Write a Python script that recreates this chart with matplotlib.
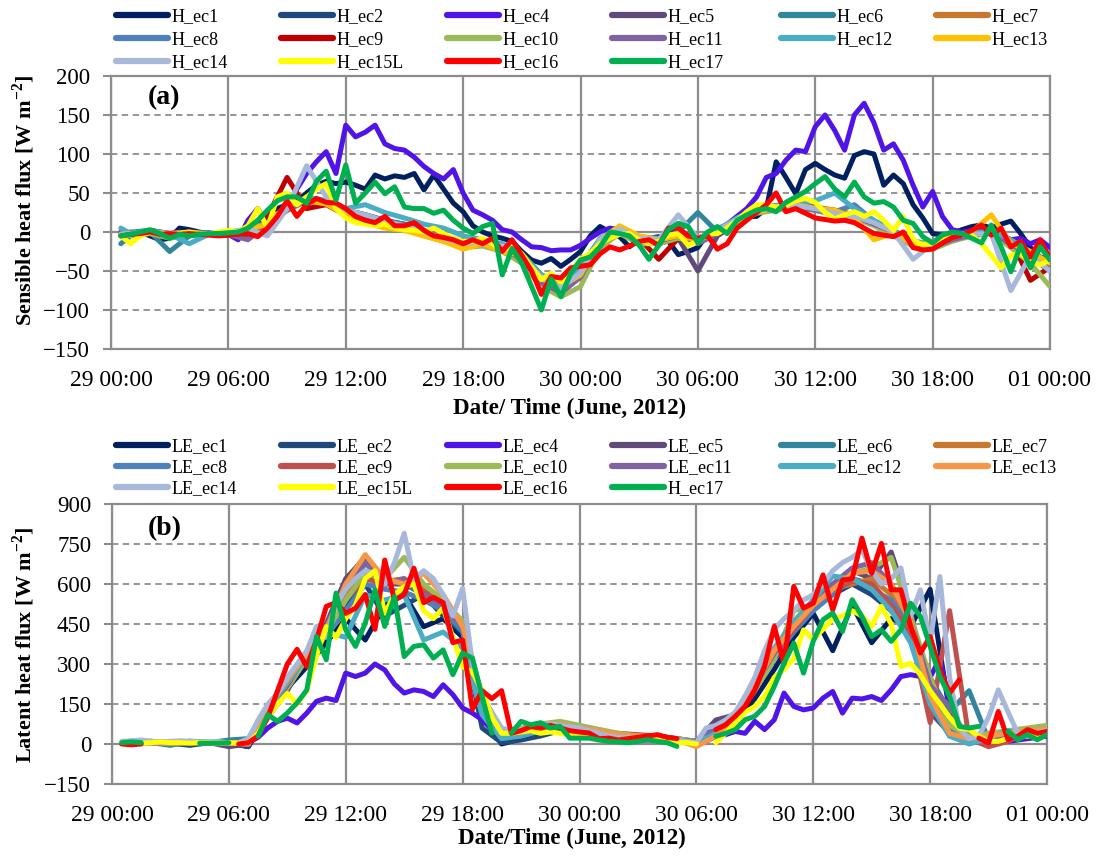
import numpy as np
import matplotlib
matplotlib.use('Agg')
import matplotlib.pyplot as plt
from matplotlib.lines import Line2D

nan = np.nan

# time axes, hours after 29 June 2012 00:00
t_half = np.arange(1, 97) * 0.5          # 0.5 ... 48.0
t_hour = np.r_[0.5, np.arange(1, 49)]     # 0.5, 1 ... 48

tick_labels = ['29 00:00', '29 06:00', '29 12:00', '29 18:00', '30 00:00',
               '30 06:00', '30 12:00', '30 18:00', '01 00:00']

# ---------------- (a) sensible heat flux ----------------
# half-hourly series
H_ec1 = [-2, -3, 0, -5, -10, -8, 5, 3, 0, -2, -3, -2,
         0, 5, 10, 25, 30, 35, 40, 50, 60, 65, 62, 64,
         60, 55, 73, 68, 72, 70, 75, 54, 73, 55, 37, 26,
         8, 0, -5, -8, -12, -25, -36, -40, -34, -44, -35, -25,
         -5, 7, 0, -6, -19, -10, -8, -6, -12, -29, -25, -20,
         -2, 2, 5, 15, 20, 20, 30, 90, 70, 49, 80, 88,
         80, 73, 69, 98, 103, 100, 60, 73, 62, 35, 18, -2,
         -4, -2, 3, 7, 9, 5, 10, 14, -2, -20, -32, -36]
H_ec4 = [-3, -2, 0, 2, 0, -2, 0, -3, -2, -1, -2, -3,
         -10, 15, 30, 8, 18, 30, 55, 75, 90, 103, 75, 137,
         122, 128, 137, 113, 107, 105, 96, 84, 75, 68, 80, 50,
         28, 22, 15, 3, 0, -10, -19, -20, -24, -23, -23, -17,
         -8, 0, 5, 3, -2, -8, -10, -10, 0, 5, -5, -8,
         -3, 0, 10, 20, 30, 45, 70, 75, 92, 105, 103, 135,
         150, 130, 105, 150, 165, 140, 105, 113, 92, 60, 32, 52,
         20, 3, 0, 2, 5, 0, -5, -10, -8, -15, -10, -20]
H_ec15L = [-5, -15, -5, 0, -2, -3, -2, 0, -3, -2, 0, 2,
           0, 8, 30, 5, 45, 50, 35, 45, 55, 62, 30, 18,
           12, 10, 8, 10, 5, 3, 2, 0, 5, -2, -8, -12,
           -12, -8, -15, -25, -15, -28, -45, -61, -53, -64, -50, -35,
           -27, -15, -8, -3, -2, -10, -15, -12, -4, -2, -17, -12,
           -2, -2, 5, 15, 26, 35, 35, 32, 34, 40, 43, 38,
           25, 17, 22, 26, 20, 26, 15, 2, 20, -10, -17, -14,
           -8, -4, -2, -4, -15, -30, -46, -30, -28, -38, -42, -36]
H_ec16 = [-5, -3, -2, 0, -3, -2, -3, -2, -3, -4, -5, -4,
          -3, -2, -6, 5, 20, 40, 20, 35, 43, 38, 37, 30,
          20, 15, 12, 20, 8, 8, 12, 2, -5, -7, -10, -15,
          -10, -15, -8, -25, -10, -30, -50, -80, -57, -59, -46, -44,
          -42, -28, -19, -23, -18, -12, -10, -17, 5, 5, -5, -8,
          -5, -22, -15, 5, 15, 25, 35, 50, 26, 30, 24, 18,
          16, 14, 15, 12, 5, -2, -4, -6, 0, -20, -23, -22,
          -14, -7, -4, 2, 9, -4, 5, -19, -12, -32, -10, -34]
H_ec17 = [-5, -3, 0, 3, -2, -8, -3, -5, -3, -2, -2, -1,
          0, 5, 15, 28, 40, 45, 45, 37, 65, 78, 41, 86,
          37, 50, 64, 49, 58, 32, 30, 30, 24, 28, 15, 5,
          -2, 7, 11, -55, -21, -40, -70, -100, -60, -83, -53, -36,
          -32, -19, 0, -2, -5, -17, -35, -17, 3, 11, 7, -14,
          0, 7, -2, 15, 22, 28, 30, 26, 38, 45, 52, 62,
          71, 55, 45, 64, 45, 37, 39, 32, 15, 11, -6, -14,
          -4, 0, -2, -8, -14, 9, -19, -51, -17, -46, -19, -36]
# hourly series
H_ec2 = [-2, -3, 0, -5, -3, -2, -3, 2, 12, 32, 42, 36, 28,
         22, 15, 10, 2, -6, -12, -10, -16, -28, -55, -68, -45,
         -10, 5, -8, -10, -4, -12, 0, 16, 30, 34, 36, 32,
         26, 20, 12, 2, -14, -16, -6, -2, 2, -12, -28, -40]
H_ec5 = [0, -2, 2, -3, -2, -3, -4, -8, 8, 28, 40, 36, 22,
         15, 10, 5, -2, -10, -18, -15, -22, -40, -65, -80, -55,
         -15, 0, -12, -15, -8, -50, -5, 12, 25, 30, 32, 28,
         22, 18, 10, -2, -18, -20, -10, -5, 0, -18, -32, -50]
H_ec6 = [-15, -5, 0, -25, -5, -3, -3, 2, 10, 28, 42, 40, 28,
         22, 14, 10, 2, -6, -14, -12, -20, -32, -58, -70, -48,
         -10, 3, -8, -10, 0, 25, 0, 14, 28, 32, 36, 30,
         28, 22, 14, 2, -12, -16, -8, -2, 2, -14, -28, -42]
H_ec7 = [-3, -2, 2, -2, -2, -3, -2, 3, 8, 28, 40, 36, 24,
         18, 12, 8, 0, -8, -16, -12, -20, -32, -62, -75, -50,
         -12, 2, -15, -10, -5, -8, 2, 14, 26, 30, 34, 32,
         28, 22, 12, 0, -15, -18, -8, -4, 0, -15, -30, -48]
H_ec8 = [-2, 0, 2, -2, -3, -2, -2, 4, 12, 30, 44, 40, 28,
         22, 14, 8, 2, -8, -14, -10, -18, -30, -58, -70, -52,
         -10, 4, -10, -12, -6, -10, 4, 16, 28, 32, 34, 30,
         26, 35, 14, 2, -14, -18, -10, -4, 2, -14, -32, -45]
H_ec9 = [-4, -3, 0, -2, -2, -3, -3, 0, 20, 70, 30, 35, 22,
         18, 10, 6, 0, -8, -15, -12, -20, -32, -62, -72, -50,
         -15, 0, -8, -35, -8, -10, 2, 14, 26, 30, 32, 30,
         24, 20, 12, 0, -15, -18, -8, -2, 2, -10, -62, -45]
H_ec10 = [-3, -5, -2, -8, -4, -3, -3, 2, 8, 30, 42, 36, 22,
          15, 8, 3, -5, -12, -20, -18, -25, -40, -70, -83, -70,
          -20, -2, -15, -15, -8, -12, 0, 12, 24, 28, 30, 28,
          22, 18, 8, -5, -18, -22, -12, -5, -2, -20, -40, -70]
H_ec11 = [-2, -3, 0, -2, -3, -2, -3, -10, 10, 28, 42, 38, 24,
          18, 10, 6, 0, -10, -15, -12, -20, -35, -65, -78, -58,
          -12, 0, -10, -12, -5, -15, -2, 14, 26, 30, 32, 28,
          24, 20, 10, 0, -16, -20, -10, -4, 0, -16, -30, -48]
H_ec12 = [5, -2, 2, -3, -15, -3, -3, 4, 12, 30, 45, 40, 30,
          35, 25, 18, 10, 5, -5, -10, -15, -28, -55, -65, -45,
          -8, 5, -6, -8, -3, -12, 2, 18, 30, 34, 38, 40,
          50, 30, 15, 2, -12, -15, -6, -2, 2, -10, -25, -40]
H_ec13 = [-3, -2, 0, -2, 0, -2, 0, 3, 10, 35, 40, 36, 22,
          12, 5, 2, -5, -12, -22, -15, -25, -30, -60, -70, -55,
          -10, 8, -5, -10, -5, -10, 0, 14, 26, 30, 35, 30,
          28, 18, -10, -2, -15, -15, -5, 0, 22, -15, -25, -40]
H_ec14 = [-3, -2, 0, -2, -2, -2, 0, 4, -5, 30, 85, 45, 28,
          22, 14, 8, 0, -8, -15, -12, -18, -32, -58, -72, -52,
          -10, 4, -8, -10, 22, -8, 2, 16, 28, 32, 34, 30,
          24, 20, 12, 0, -35, -15, -5, -3, -2, -75, -30, -50]

# ---------------- (b) latent heat flux ----------------
# half-hourly series
LE_ec4 = [5, 8, 10, 8, 5, 5, 8, 10, 8, 5, 5, 3,
          0, 5, 25, 60, 85, 97, 79, 116, 160, 172, 163, 266,
          253, 266, 300, 278, 225, 191, 203, 197, 178, 222, 185, 135,
          116, 91, 54, 30, 35, 40, 45, 50, 55, 50, 45, 40,
          35, 30, 25, 20, 20, 15, 15, 15, 15, 10, 10, 5,
          10, 29, 35, 47, 40, 85, 54, 91, 191, 141, 128, 135,
          172, 197, 116, 172, 169, 178, 163, 203, 253, 260, 253, 250,
          320, 150, 60, 30, 20, 15, 10, 10, 15, 20, 25, 30]
LE_ec14 = [10, 12, 15, 10, 8, 10, 12, 10, 8, 10, 8, 5,
           5, 20, 90, 150, 190, 250, 300, 350, 441, 400, 520, 580,
           620, 650, 640, 600, 680, 790, 620, 650, 620, 560, 480, 584,
           300, 180, 120, 60, 50, 55, 60, 70, 75, 70, 65, 60,
           50, 40, 30, 25, 25, 20, 20, 20, 15, 15, 10, 5,
           60, 70, 90, 120, 180, 250, 350, 430, 470, 500, 540, 560,
           600, 650, 680, 700, 728, 650, 600, 620, 660, 480, 578, 380,
           628, 250, 60, 20, 30, 100, 203, 120, 40, 40, 45, 50]
LE_ec15L = [5, 5, 3, 5, 8, 5, 5, 3, 5, 5, 3, 5,
            3, 5, 40, 100, 150, 190, 150, 200, 330, 440, 400, 470,
            520, 620, 650, 490, 560, 590, 600, 500, 470, 510, 400, 290,
            270, 200, 100, 40, 40, 45, 50, 40, 45, 40, 35, 30,
            25, 20, 15, 15, 10, 15, 20, 15, 10, 5, 5, 0,
            nan, 5, 40, 80, 120, 140, 180, 250, 280, 320, 428, 391,
            430, 470, 480, 500, 480, 441, 516, 450, 291, 303, 260, 200,
            150, 100, 60, 54, 30, 10, 10, 20, 25, 30, 30, 35]
LE_ec16 = [0, -3, 0, nan, nan, nan, nan, nan, nan, nan, nan, nan,
           0, 5, 30, 100, 200, 300, 355, 290, 390, 516, 530, 490,
           509, 560, 430, 690, 540, 560, 659, 530, 550, 530, 380, 390,
           130, 200, 170, 200, 40, 50, 65, 60, 70, 60, 50, 45,
           41, 20, 22, 15, 20, 25, 30, 35, 25, 20, nan, nan,
           nan, 54, 72, 104, 141, 203, 291, 441, 300, 591, 510, 528,
           634, 503, 615, 620, 772, 640, 752, 578, 578, 441, 341, 403,
           278, 191, 241, nan, 22, 4, 122, 16, 29, 54, 40, 47]
LE_ec17 = [5, 8, 5, nan, nan, nan, nan, nan, 3, 3, 3, 5,
           nan, nan, 29, 110, 85, 116, 154, 203, 403, 316, 566, 428,
           366, 453, 578, 441, 553, 328, 366, 372, 322, 353, 260, 341,
           322, 179, 41, nan, 41, 85, 72, 80, 60, 66, 22, 22,
           22, 15, 10, 8, 5, 10, 16, 10, 5, -9, nan, nan,
           nan, 29, 40, 54, 91, 104, 141, 216, 303, 378, 266, 385,
           466, 491, 422, 541, 478, 403, 428, 385, 428, 528, 478, 366,
           253, 179, 66, 60, 66, nan, nan, 47, 16, 35, 16, 35]
# hourly series
LE_ec1 = [5, 8, 10, 5, 8, 5, 3, -10, 110, 210, 290, 380, 470,
          390, 520, 560, 440, 470, 400, 130, 0, 20, 40, 50, 45,
          35, 25, 20, 30, 20, 5, 30, 90, 170, 280, 400, 490,
          350, 520, 380, 470, 440, 580, 120, 10, 10, 20, 30, 30]
LE_ec2 = [5, 5, 8, 3, -5, 5, 5, -10, 120, 220, 320, 410, 520,
          600, 480, 520, 560, 480, 420, 60, 5, 15, 30, 50, 45,
          30, 20, 15, 20, 15, 10, 40, 100, 200, 320, 420, 520,
          560, 600, 560, 500, 420, 160, 30, 5, 10, 20, 30, 40]
LE_ec5 = [5, 10, 8, 5, 5, 5, -10, 0, 100, 200, 330, 450, 620,
          700, 600, 600, 580, 520, 430, 120, 40, 40, 60, 70, 60,
          40, 30, 25, 20, 20, 10, 90, 110, 200, 350, 430, 520,
          590, 650, 620, 720, 500, 120, 40, 10, 15, 25, 35, 45]
LE_ec6 = [5, 8, 5, -5, 10, 5, 15, 20, 140, 220, 330, 420, 540,
          680, 620, 600, 560, 500, 420, 160, 30, 30, 50, 70, 55,
          40, 25, 20, 20, 15, 0, 40, 110, 230, 350, 450, 540,
          600, 620, 600, 520, 400, 250, 120, 200, 15, 25, 35, 45]
LE_ec7 = [5, 5, 5, 3, 8, 5, 3, 0, 120, 230, 330, 430, 560,
          640, 610, 620, 580, 520, 450, 170, 40, 40, 60, 75, 60,
          50, 35, 30, 25, 20, 5, 30, 90, 210, 340, 430, 510,
          580, 600, 620, 560, 420, 200, 60, 20, 30, 40, 40, 50]
LE_ec8 = [5, 5, 5, 3, 8, 5, 3, 0, 120, 220, 330, 410, 500,
          600, 580, 570, 540, 500, 430, 140, 40, 40, 60, 70, 60,
          40, 30, 25, 20, 15, 5, 35, 100, 220, 330, 420, 500,
          560, 620, 580, 540, 430, 200, 50, 15, 20, 30, 40, 45]
LE_ec9 = [3, 5, 5, 3, 8, 5, 3, 0, 125, 225, 320, 430, 540,
          620, 600, 610, 570, 530, 440, 150, 40, 50, 65, 80, 60,
          45, 40, 35, 30, 20, 5, 35, 100, 210, 330, 430, 520,
          580, 610, 600, 520, 420, 80, 500, 20, -10, 10, 50, 40]
LE_ec10 = [5, 8, 10, 5, 10, 8, 5, 5, 110, 210, 320, 420, 540,
           640, 620, 700, 600, 540, 460, 180, 50, 60, 75, 85, 70,
           55, 40, 30, 25, 20, 10, 35, 100, 200, 320, 500, 520,
           600, 640, 660, 700, 480, 250, 70, 30, 40, 50, 60, 70]
LE_ec11 = [5, 10, 8, 5, 8, 5, 5, 0, 120, 220, 340, 440, 600,
           680, 600, 620, 560, 520, 440, 130, 40, 40, 55, 65, 55,
           40, 30, 25, 20, 15, 10, 60, 110, 220, 340, 440, 540,
           600, 660, 680, 600, 460, 220, 140, 10, 20, 30, 40, 40]
LE_ec12 = [5, 5, 5, 3, 10, 8, 5, 5, 130, 230, 330, 420, 400,
           560, 540, 560, 390, 420, 360, 110, 20, 30, 50, 60, 50,
           40, 25, 20, 20, 15, 5, 40, 110, 240, 360, 460, 540,
           630, 620, 580, 500, 380, 150, 30, 0, 20, 50, 30, 40]
LE_ec13 = [5, 5, 5, 3, 5, 5, 3, 0, 140, 240, 340, 430, 600,
           710, 620, 600, 640, 560, 440, 180, 50, 45, 60, 75, 60,
           50, 35, 30, 25, 15, -10, 30, 95, 220, 350, 440, 520,
           580, 640, 650, 600, 460, 180, 40, 20, 30, 40, 50, 55]

labels_a = ['H_ec1', 'H_ec2', 'H_ec4', 'H_ec5', 'H_ec6', 'H_ec7', 'H_ec8', 'H_ec9',
            'H_ec10', 'H_ec11', 'H_ec12', 'H_ec13', 'H_ec14', 'H_ec15L', 'H_ec16', 'H_ec17']
series_a = [H_ec1, H_ec2, H_ec4, H_ec5, H_ec6, H_ec7, H_ec8, H_ec9,
            H_ec10, H_ec11, H_ec12, H_ec13, H_ec14, H_ec15L, H_ec16, H_ec17]
colors_a = ['#002060', '#1F497D', '#5014E8', '#604A7B', '#31859C', '#C8772F', '#4F81BD', '#C00000',
            '#9BBB59', '#8064A2', '#4BACC6', '#FFC000', '#A7B8DA', '#FFFF00', '#FF0000', '#00B050']

labels_b = ['LE_ec1', 'LE_ec2', 'LE_ec4', 'LE_ec5', 'LE_ec6', 'LE_ec7', 'LE_ec8', 'LE_ec9',
            'LE_ec10', 'LE_ec11', 'LE_ec12', 'LE_ec13', 'LE_ec14', 'LE_ec15L', 'LE_ec16', 'H_ec17']
series_b = [LE_ec1, LE_ec2, LE_ec4, LE_ec5, LE_ec6, LE_ec7, LE_ec8, LE_ec9,
            LE_ec10, LE_ec11, LE_ec12, LE_ec13, LE_ec14, LE_ec15L, LE_ec16, LE_ec17]
colors_b = ['#002060', '#1F497D', '#5014E8', '#604A7B', '#31859C', '#C8772F', '#4F81BD', '#C0504D',
            '#9BBB59', '#8064A2', '#4BACC6', '#F79646', '#A7B8DA', '#FFFF00', '#FF0000', '#00B050']

plt.rcParams['font.family'] = 'Liberation Serif'
plt.rcParams['mathtext.fontset'] = 'custom'
plt.rcParams['mathtext.rm'] = 'Liberation Serif'
plt.rcParams['mathtext.bf'] = 'Liberation Serif:bold'

W, H = 1098, 858
grid_c = '#8C8C8C'
fig = plt.figure(figsize=(W / 100, H / 100), dpi=100)


def px_box(l, t, r, b):
    return [l / W, 1 - b / H, (r - l) / W, (b - t) / H]


def draw_panel(ax, series, colors, ylo, yhi, ystep):
    for i, (vals, c) in enumerate(zip(series, colors)):
        t = t_half if len(vals) == 96 else t_hour
        ax.plot(t, vals, color=c, lw=3.6, solid_joinstyle='round',
                solid_capstyle='round', zorder=3 + i)
    ax.set_xlim(0, 48)
    ax.set_ylim(ylo, yhi)
    ax.set_xticks(np.arange(0, 49, 6))
    ax.set_xticklabels(tick_labels)
    ax.set_yticks(np.arange(ylo, yhi + 1, ystep))
    ax.grid(axis='x', color=grid_c, lw=1.6, ls='-', zorder=1)
    ax.grid(axis='y', color=grid_c, lw=1.3, ls=(0, (3.5, 2.5)), zorder=1)
    ax.axhline(0, color=grid_c, lw=1.6, zorder=2)
    ax.set_axisbelow(True)
    for s in ax.spines.values():
        s.set_color(grid_c)
        s.set_linewidth(1.6)
    ax.tick_params(axis='y', length=6, width=1.5, color=grid_c, pad=9, labelsize=16.5)
    ax.tick_params(axis='x', length=0, pad=15, labelsize=17)


leg_x = [116, 281, 447, 612, 781, 936]


def draw_legend(labels, colors, rows_y):
    for k, (lab, c) in enumerate(zip(labels, colors)):
        h = Line2D([], [], color=c, lw=4.5, solid_capstyle='round')
        fig.legend([h], [lab], loc='center left',
                   bbox_to_anchor=(leg_x[k % 6] / W, 1 - rows_y[k // 6] / H),
                   frameon=False, fontsize=13, handlelength=2.9, handletextpad=0.2,
                   borderpad=0, borderaxespad=0)


ax_a = fig.add_axes(px_box(111, 76, 1050, 349))
draw_panel(ax_a, series_a, colors_a, -150, 200, 50)
draw_legend(labels_a, colors_a, [17, 40, 63])
fig.text(148 / W, 1 - 98 / H, '(a)', fontsize=20, fontweight='bold', va='center')
fig.text(24 / W, 1 - 200 / H, r'Sensible heat flux [W m$^{\mathbf{-2}}$]', rotation=90,
         fontsize=16, fontweight='bold', ha='center', va='center')
fig.text(570 / W, 1 - 408 / H, 'Date/ Time (June, 2012)', fontsize=16.5,
         fontweight='bold', ha='center', va='center')

ax_b = fig.add_axes(px_box(112, 504, 1047, 784))
draw_panel(ax_b, series_b, colors_b, -150, 900, 150)
draw_legend(labels_b, colors_b, [447, 468, 489])
fig.text(148 / W, 1 - 529 / H, '(b)', fontsize=20, fontweight='bold', va='center')
fig.text(24 / W, 1 - 645 / H, r'Latent heat flux [W m$^{\mathbf{-2}}$]', rotation=90,
         fontsize=16, fontweight='bold', ha='center', va='center')
fig.text(572 / W, 1 - 838 / H, 'Date/Time (June, 2012)', fontsize=16.5,
         fontweight='bold', ha='center', va='center')

fig.savefig('out.png', dpi=100)
